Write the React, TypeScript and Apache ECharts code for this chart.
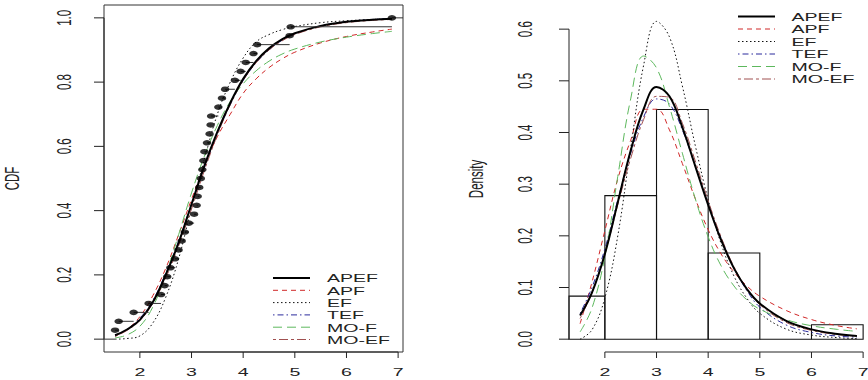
import { useEffect, useRef } from "react";
import * as echarts from "echarts";

// ---------- data ----------
const OBS = [
  1.52, 1.59, 1.88, 2.17, 2.41, 2.48, 2.53, 2.59, 2.68, 2.75, 2.81, 2.87,
  2.95, 3.05, 3.1, 3.12, 3.15, 3.18, 3.21, 3.23, 3.25, 3.3, 3.35, 3.37,
  3.38, 3.52, 3.59, 3.65, 3.84, 3.95, 4.05, 4.2, 4.27, 4.9, 4.92, 6.88,
];

const CURVE_X = [1.52, 1.75, 2, 2.25, 2.5, 2.75, 3, 3.25, 3.5, 3.75, 4, 4.25, 4.5, 4.75, 5, 5.5, 6, 6.5, 6.88];

const APEF_CDF = [0.012, 0.03, 0.06, 0.115, 0.2, 0.3, 0.42, 0.54, 0.645, 0.735, 0.81, 0.865, 0.905, 0.933, 0.952, 0.975, 0.988, 0.994, 0.997];
const APF_CDF = [0.01, 0.03, 0.07, 0.135, 0.22, 0.325, 0.435, 0.54, 0.63, 0.7, 0.765, 0.81, 0.845, 0.872, 0.893, 0.922, 0.942, 0.956, 0.965];
const EF_CDF = [0.0, 0.002, 0.01, 0.05, 0.13, 0.25, 0.41, 0.56, 0.7, 0.8, 0.875, 0.925, 0.948, 0.963, 0.973, 0.985, 0.991, 0.995, 0.998];
const TEF_CDF = [0.01, 0.03, 0.065, 0.12, 0.205, 0.305, 0.42, 0.535, 0.64, 0.73, 0.805, 0.86, 0.9, 0.93, 0.95, 0.975, 0.988, 0.995, 0.998];
const MOF_CDF = [0.004, 0.013, 0.04, 0.1, 0.2, 0.325, 0.455, 0.57, 0.665, 0.74, 0.795, 0.835, 0.865, 0.887, 0.903, 0.925, 0.94, 0.951, 0.958];
const MOEF_CDF = [0.008, 0.027, 0.058, 0.112, 0.19, 0.29, 0.405, 0.525, 0.635, 0.73, 0.805, 0.86, 0.9, 0.928, 0.948, 0.972, 0.985, 0.992, 0.995];

const APEF_PDF = [0.046, 0.09, 0.165, 0.265, 0.365, 0.445, 0.488, 0.47, 0.41, 0.335, 0.26, 0.192, 0.137, 0.097, 0.069, 0.036, 0.019, 0.01, 0.006];
const APF_PDF = [0.03, 0.11, 0.21, 0.31, 0.385, 0.445, 0.445, 0.405, 0.34, 0.272, 0.212, 0.165, 0.13, 0.103, 0.083, 0.056, 0.038, 0.026, 0.02];
const EF_PDF = [0.0, 0.018, 0.08, 0.2, 0.37, 0.53, 0.615, 0.585, 0.49, 0.375, 0.27, 0.185, 0.122, 0.079, 0.05, 0.02, 0.008, 0.003, 0.001];
const TEF_PDF = [0.05, 0.1, 0.175, 0.27, 0.36, 0.43, 0.465, 0.455, 0.405, 0.335, 0.262, 0.195, 0.138, 0.094, 0.062, 0.028, 0.013, 0.006, 0.004];
const MOF_PDF = [0.014, 0.06, 0.16, 0.315, 0.465, 0.548, 0.525, 0.45, 0.36, 0.272, 0.198, 0.142, 0.103, 0.076, 0.058, 0.038, 0.026, 0.019, 0.015];
const MOEF_PDF = [0.04, 0.09, 0.165, 0.26, 0.35, 0.425, 0.47, 0.468, 0.418, 0.345, 0.268, 0.198, 0.14, 0.097, 0.067, 0.033, 0.017, 0.009, 0.006];

const HIST_BREAKS = [1, 2, 3, 4, 5, 6, 7];
const HIST_DENSITY = [0.0833, 0.2778, 0.4444, 0.1667, 0, 0.0278];

const X_TICKS = [2, 3, 4, 5, 6, 7];
const CDF_TICKS = [0, 0.2, 0.4, 0.6, 0.8, 1.0];
const DENSITY_TICKS = [0, 0.1, 0.2, 0.3, 0.4, 0.5, 0.6];
const DENSITY_YLIM_TOP = 0.62;

const MODEL_NAMES = ["APEF", "APF", "EF", "TEF", "MO-F", "MO-EF"];
const CDF_VALUES = [APEF_CDF, APF_CDF, EF_CDF, TEF_CDF, MOF_CDF, MOEF_CDF];
const PDF_VALUES = [APEF_PDF, APF_PDF, EF_PDF, TEF_PDF, MOF_PDF, MOEF_PDF];

// ---------- styles ----------
const MODEL_STYLES: Record<string, { color: string; width: number; dash: any }> = {
  APEF: { color: "#000000", width: 2, dash: "solid" },
  APF: { color: "#D02828", width: 1, dash: [5, 4] },
  EF: { color: "#111111", width: 1, dash: [1.5, 2.5] },
  TEF: { color: "#2B2B9C", width: 1, dash: [1.5, 3, 6, 3] },
  "MO-F": { color: "#5DB85D", width: 1, dash: [9, 5] },
  "MO-EF": { color: "#A05050", width: 1, dash: [3, 3, 9, 3] },
};

const FONT = '11.5px "Liberation Sans", Arial, sans-serif';
const SX = 1.7; // horizontal stretch of the reference's text
const INK = "#222222";

const LEFT_GRID = { left: 104, top: 5, width: 299, height: 347 };
const RIGHT_GRID = { left: 569, top: 6, width: 299, height: 346 };

// R-style 4% axis extension
const xLo = Math.min(...OBS);
const xHi = Math.max(...OBS);
const X_MIN = xLo - 0.04 * (xHi - xLo);
const X_MAX = xHi + 0.04 * (xHi - xLo);
const CDF_MIN = -0.04;
const CDF_MAX = 1.04;
const DENS_MIN = -0.04 * DENSITY_YLIM_TOP;
const DENS_MAX = 1.04 * DENSITY_YLIM_TOP;

function textStyle(text: string, align: string) {
  return {
    text,
    font: FONT,
    fill: INK,
    align,
    textAlign: align,
    verticalAlign: "middle",
    textVerticalAlign: "middle",
  };
}

function xAxisSeries(g: number, yMin: number) {
  return {
    type: "custom",
    xAxisIndex: g,
    yAxisIndex: g,
    silent: true,
    clip: false,
    z: 5,
    data: X_TICKS.map((v) => [v, yMin]),
    renderItem: (params: any, api: any) => {
      const v = api.value(0);
      const i = params.dataIndex;
      const p = api.coord([v, yMin]);
      const children: any[] = [
        { type: "line", shape: { x1: p[0], y1: p[1], x2: p[0], y2: p[1] + 6 }, style: { stroke: INK, lineWidth: 1 } },
        { type: "text", x: p[0], y: p[1] + 20, scaleX: SX, style: textStyle(String(v), "center") },
      ];
      if (i < X_TICKS.length - 1) {
        const q = api.coord([X_TICKS[i + 1], yMin]);
        children.push({ type: "line", shape: { x1: p[0], y1: p[1], x2: q[0], y2: q[1] }, style: { stroke: INK, lineWidth: 1 } });
      }
      return { type: "group", children };
    },
  };
}

function yAxisSeries(g: number, ticks: number[], labelOffset: number) {
  return {
    type: "custom",
    xAxisIndex: g,
    yAxisIndex: g,
    silent: true,
    clip: false,
    z: 5,
    data: ticks.map((v) => [X_MIN, v]),
    renderItem: (params: any, api: any) => {
      const v = api.value(1);
      const i = params.dataIndex;
      const p = api.coord([X_MIN, v]);
      const children: any[] = [
        { type: "line", shape: { x1: p[0] - 10, y1: p[1], x2: p[0], y2: p[1] }, style: { stroke: INK, lineWidth: 1 } },
        {
          type: "text",
          x: p[0] - labelOffset,
          y: p[1],
          rotation: Math.PI / 2,
          scaleY: SX,
          style: textStyle(v.toFixed(1), "center"),
        },
      ];
      if (i < ticks.length - 1) {
        const q = api.coord([X_MIN, ticks[i + 1]]);
        children.push({ type: "line", shape: { x1: p[0], y1: p[1], x2: q[0], y2: q[1] }, style: { stroke: INK, lineWidth: 1 } });
      }
      return { type: "group", children };
    },
  };
}

function curveSeries(g: number, values: number[][]) {
  return MODEL_NAMES.map((name, k) => {
    const s = MODEL_STYLES[name];
    return {
      type: "line",
      name,
      xAxisIndex: g,
      yAxisIndex: g,
      silent: true,
      showSymbol: false,
      smooth: 0.4,
      z: name === "APEF" ? 4 : 3,
      data: CURVE_X.map((x, i) => [x, values[k][i]]),
      lineStyle: { color: s.color, width: s.width, type: s.dash },
    };
  });
}

function legendElements(x1: number, x2: number, tx: number, y0: number, dy: number) {
  const els: any[] = [];
  MODEL_NAMES.forEach((name, i) => {
    const s = MODEL_STYLES[name];
    const y = y0 + i * dy;
    els.push({
      type: "line",
      silent: true,
      shape: { x1, y1: y, x2, y2: y },
      style: { stroke: s.color, lineWidth: s.width, lineDash: s.dash === "solid" ? null : s.dash },
    });
    els.push({ type: "text", x: tx, y, scaleX: SX, silent: true, style: textStyle(name, "left") });
  });
  return els;
}

export default function App() {
  const ref = useRef<HTMLDivElement>(null);
  useEffect(() => {
    if (!ref.current) return;
    const chart = echarts.init(ref.current, undefined, { renderer: "svg" });
    const n = OBS.length;
    const hiddenAxis = {
      type: "value",
      axisLine: { show: false },
      axisTick: { show: false },
      axisLabel: { show: false },
      splitLine: { show: false },
    };
    const option: any = {
      animation: false,
      backgroundColor: "#ffffff",
      grid: [
        { ...LEFT_GRID, show: true, borderColor: "#333333", borderWidth: 1, backgroundColor: "transparent", containLabel: false },
        { ...RIGHT_GRID, show: false, containLabel: false },
      ],
      xAxis: [
        { ...hiddenAxis, gridIndex: 0, min: X_MIN, max: X_MAX },
        { ...hiddenAxis, gridIndex: 1, min: X_MIN, max: X_MAX },
      ],
      yAxis: [
        { ...hiddenAxis, gridIndex: 0, min: CDF_MIN, max: CDF_MAX },
        { ...hiddenAxis, gridIndex: 1, min: DENS_MIN, max: DENS_MAX },
      ],
      series: [
        // ---- left panel: fitted CDFs + empirical CDF ----
        ...curveSeries(0, CDF_VALUES),
        {
          type: "custom",
          xAxisIndex: 0,
          yAxisIndex: 0,
          silent: true,
          z: 6,
          data: [[X_MIN, OBS[0], 0], ...OBS.map((x, i) => [x, i < n - 1 ? OBS[i + 1] : X_MAX, (i + 1) / n])],
          renderItem: (_p: any, api: any) => {
            const a = api.coord([api.value(0), api.value(2)]);
            const b = api.coord([api.value(1), api.value(2)]);
            return { type: "line", shape: { x1: a[0], y1: a[1], x2: b[0], y2: b[1] }, style: { stroke: "#333333", lineWidth: 1 } };
          },
        },
        {
          type: "scatter",
          xAxisIndex: 0,
          yAxisIndex: 0,
          silent: true,
          z: 7,
          symbol: "circle",
          symbolSize: [8.5, 5.5],
          itemStyle: { color: "#000000" },
          data: OBS.map((x, i) => [x, (i + 1) / n]),
        },
        xAxisSeries(0, CDF_MIN),
        yAxisSeries(0, CDF_TICKS, 40),
        // ---- right panel: histogram + fitted densities ----
        {
          type: "custom",
          xAxisIndex: 1,
          yAxisIndex: 1,
          silent: true,
          z: 2,
          data: HIST_DENSITY.map((d, i) => [HIST_BREAKS[i], HIST_BREAKS[i + 1], d]),
          renderItem: (_p: any, api: any) => {
            const lo = Math.max(api.value(0), X_MIN);
            const a = api.coord([lo, api.value(2)]);
            const b = api.coord([api.value(1), 0]);
            return {
              type: "rect",
              shape: { x: a[0], y: a[1], width: b[0] - a[0], height: b[1] - a[1] },
              style: { fill: "none", stroke: "#111111", lineWidth: 1.1 },
            };
          },
        },
        ...curveSeries(1, PDF_VALUES),
        xAxisSeries(1, DENS_MIN),
        yAxisSeries(1, DENSITY_TICKS, 44),
      ],
      graphic: {
        elements: [
          {
            type: "text",
            x: 12,
            y: LEFT_GRID.top + LEFT_GRID.height / 2,
            rotation: Math.PI / 2,
            scaleY: SX,
            silent: true,
            style: textStyle("CDF", "center"),
          },
          {
            type: "text",
            x: 476,
            y: RIGHT_GRID.top + RIGHT_GRID.height / 2,
            rotation: Math.PI / 2,
            scaleY: SX,
            silent: true,
            style: textStyle("Density", "center"),
          },
          ...legendElements(273, 310, 327, 278, 12.3),
          ...legendElements(738, 775, 791.5, 16.5, 12.5),
        ],
      },
    };
    chart.setOption(option);
    return () => chart.dispose();
  }, []);
  return <div ref={ref} style={{ position: "fixed", left: 0, top: 0, width: 868, height: 380 }} />;
}
